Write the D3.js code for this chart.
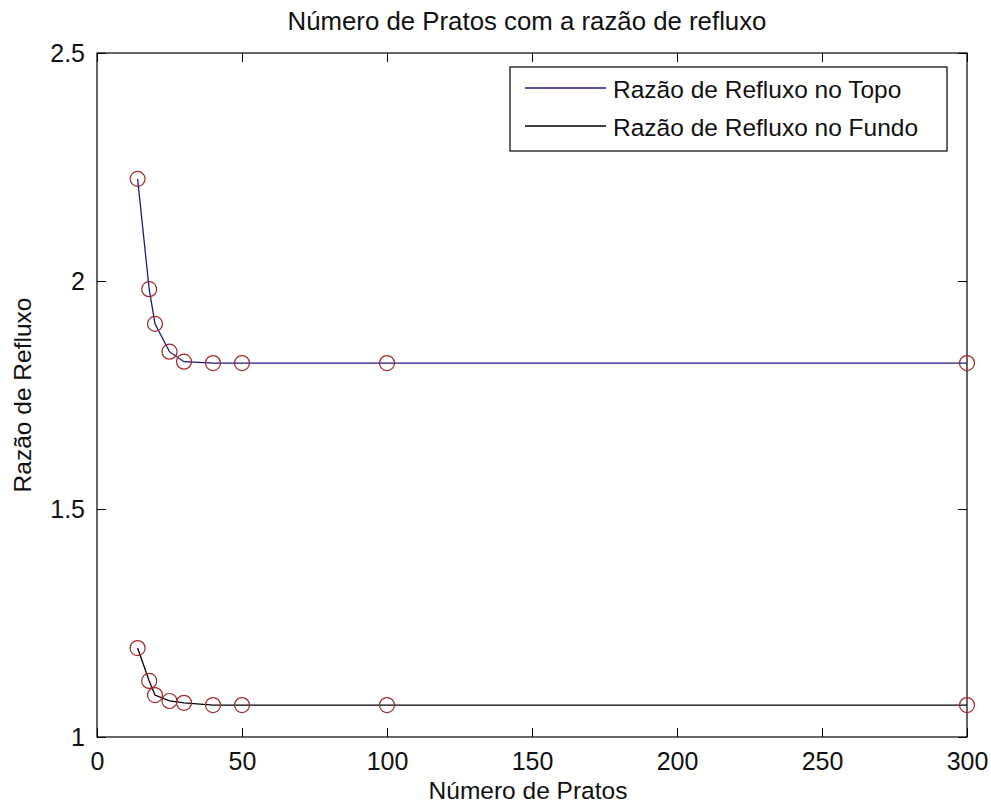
<!DOCTYPE html>
<html>
<head>
<meta charset="utf-8">
<script src="https://cdn.jsdelivr.net/npm/d3@7"></script>
<style>
  html, body { margin: 0; padding: 0; background: #fff; }
  svg { display: block; }
  text { font-family: "Liberation Sans", Arial, sans-serif; fill: #111; }
</style>
</head>
<body>
<svg id="chart" width="991" height="808"></svg>
<script>
// ---- data ----
const pratos = [14, 18, 20, 25, 30, 40, 50, 100, 300];
const refluxoTopo = [2.224, 1.982, 1.906, 1.845, 1.823, 1.820, 1.820, 1.820, 1.820];
const refluxoFundo = [1.195, 1.123, 1.092, 1.079, 1.075, 1.070, 1.070, 1.070, 1.070];
const xTicks = [0, 50, 100, 150, 200, 250, 300];
const yTicks = [1, 1.5, 2, 2.5];
const seriesNames = ["Razão de Refluxo no Topo", "Razão de Refluxo no Fundo"];
const title = "Número de Pratos com a razão de refluxo";
const xLabel = "Número de Pratos";
const yLabel = "Razão de Refluxo";

// ---- layout ----
const svg = d3.select("#chart");
const L = 97, R = 967, T = 53, B = 737;
const x = d3.scaleLinear().domain([0, 300]).range([L, R]);
const y = d3.scaleLinear().domain([1, 2.5]).range([B, T]);
const tickLen = 9;
const tickFont = 25;
const labelFont = 24.5;

// axes box
svg.append("rect").attr("x", L).attr("y", T).attr("width", R - L).attr("height", B - T)
  .attr("fill", "#fff").attr("stroke", "#000").attr("stroke-width", 1.2);

// bottom axis (ticks inward)
const xAxis = d3.axisBottom(x).tickValues(xTicks).tickFormat(d3.format("d"))
  .tickSizeInner(-tickLen).tickSizeOuter(0).tickPadding(12);
const gx = svg.append("g").attr("transform", `translate(0,${B})`).call(xAxis);
gx.select(".domain").remove();
gx.selectAll("text").attr("font-size", tickFont).attr("font-family", "Liberation Sans, Arial, sans-serif")
  .attr("fill", "#111").attr("dy", "0.85em");
gx.selectAll("line").attr("stroke", "#000");

// top axis mirrored ticks
const gxt = svg.append("g").attr("transform", `translate(0,${T})`)
  .call(d3.axisTop(x).tickValues(xTicks).tickSizeInner(-tickLen).tickSizeOuter(0).tickFormat(""));
gxt.select(".domain").remove();
gxt.selectAll("line").attr("stroke", "#000");

// left axis
const yAxis = d3.axisLeft(y).tickValues(yTicks).tickFormat(d => d3.format("")(d))
  .tickSizeInner(-tickLen).tickSizeOuter(0).tickPadding(12);
const gy = svg.append("g").attr("transform", `translate(${L},0)`).call(yAxis);
gy.select(".domain").remove();
gy.selectAll("text").attr("font-size", tickFont).attr("font-family", "Liberation Sans, Arial, sans-serif")
  .attr("fill", "#111");
gy.selectAll("line").attr("stroke", "#000");

// right axis mirrored ticks
const gyr = svg.append("g").attr("transform", `translate(${R},0)`)
  .call(d3.axisRight(y).tickValues(yTicks).tickSizeInner(-tickLen).tickSizeOuter(0).tickFormat(""));
gyr.select(".domain").remove();
gyr.selectAll("line").attr("stroke", "#000");

// ---- series ----
const series = [
  { name: seriesNames[0], values: refluxoTopo, color: "#1a1a80" },
  { name: seriesNames[1], values: refluxoFundo, color: "#000000" }
];
const line = d3.line().x(d => x(d[0])).y(d => y(d[1]));
series.forEach(s => {
  const pts = pratos.map((p, i) => [p, s.values[i]]);
  svg.append("path").datum(pts).attr("d", line)
    .attr("fill", "none").attr("stroke", s.color).attr("stroke-width", 1.3);
  svg.append("g").selectAll("circle").data(pts).join("circle")
    .attr("cx", d => x(d[0])).attr("cy", d => y(d[1])).attr("r", 7.5)
    .attr("fill", "none").attr("stroke", "#a02828").attr("stroke-width", 1.2);
});

// ---- legend ----
const lg = svg.append("g");
lg.append("rect").attr("x", 510).attr("y", 67).attr("width", 947 - 510).attr("height", 151 - 67)
  .attr("fill", "#fff").attr("stroke", "#000").attr("stroke-width", 1.2);
series.forEach((s, i) => {
  const yy = 89 + i * 38;
  lg.append("line").attr("x1", 525).attr("x2", 606).attr("y1", yy - 1).attr("y2", yy - 1)
    .attr("stroke", s.color).attr("stroke-width", 1.3);
  lg.append("text").attr("x", 613).attr("y", yy).attr("dy", "0.35em")
    .attr("font-size", labelFont).text(s.name);
});

// ---- titles ----
svg.append("text").attr("x", 527).attr("y", 30).attr("text-anchor", "middle")
  .attr("font-size", 25.8).text(title);
svg.append("text").attr("x", 528).attr("y", 799).attr("text-anchor", "middle")
  .attr("font-size", labelFont).text(xLabel);
svg.append("text").attr("transform", `translate(31,${(T + B) / 2}) rotate(-90)`)
  .attr("text-anchor", "middle").attr("font-size", labelFont).text(yLabel);
</script>
</body>
</html>
